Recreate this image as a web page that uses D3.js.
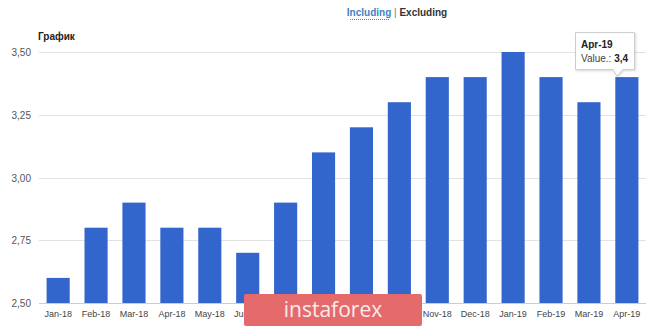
<!DOCTYPE html>
<html>
<head>
<meta charset="utf-8">
<script src="https://cdn.jsdelivr.net/npm/d3@7"></script>
<style>
  body { margin: 0; background: #fff; font-family: "Liberation Sans", Arial, sans-serif; }
</style>
</head>
<body>
<div id="chart"></div>
<script>
// Data
const months = ["Jan-18", "Feb-18", "Mar-18", "Apr-18", "May-18", "Jun-18", "Jul-18", "Aug-18",
  "Sep-18", "Oct-18", "Nov-18", "Dec-18", "Jan-19", "Feb-19", "Mar-19", "Apr-19"];
const values = [2.6, 2.8, 2.9, 2.8, 2.8, 2.7, 2.9, 3.1, 3.2, 3.3, 3.4, 3.4, 3.5, 3.4, 3.3, 3.4];
const yTicks = [2.5, 2.75, 3.0, 3.25, 3.5];

const width = 665, height = 326;
const margin = { top: 52, right: 19, bottom: 23, left: 39 };

const svg = d3.select("#chart").append("svg")
  .attr("width", width)
  .attr("height", height);

const x = d3.scaleBand()
  .domain(months)
  .range([margin.left, width - margin.right])
  .paddingInner(0.39)
  .paddingOuter(0.2);

const y = d3.scaleLinear()
  .domain([2.5, 3.5])
  .range([height - margin.bottom, margin.top]);

const fmt = d => d3.format(".2f")(d).replace(".", ",");

// Header switch
const head = svg.append("text")
  .attr("x", 397).attr("y", 16)
  .attr("text-anchor", "middle")
  .style("font-size", "10px").style("font-weight", "bold");
head.append("tspan").text("Including").attr("fill", "#3f7fc4");
head.append("tspan").text(" | ").attr("fill", "#777").style("font-weight", "normal");
head.append("tspan").text("Excluding").attr("fill", "#333");
svg.append("line")
  .attr("x1", 350).attr("x2", 389).attr("y1", 19.5).attr("y2", 19.5)
  .attr("stroke", "#3f7fc4").attr("stroke-dasharray", "1,1");

// Title
svg.append("text")
  .attr("x", 38).attr("y", 40)
  .style("font-size", "10px").style("font-weight", "bold")
  .attr("fill", "#222")
  .text("График");

// Grid
svg.append("g")
  .selectAll("line")
  .data(yTicks)
  .join("line")
  .attr("x1", margin.left).attr("x2", width - margin.right)
  .attr("y1", d => Math.round(y(d)) + 0.5).attr("y2", d => Math.round(y(d)) + 0.5)
  .attr("stroke", d => d === 2.5 ? "#ccc" : "#e2e2e2");

// Y labels
svg.append("g")
  .selectAll("text")
  .data(yTicks)
  .join("text")
  .attr("x", 31).attr("y", d => y(d) + 4)
  .attr("text-anchor", "end")
  .style("font-size", "10px").attr("fill", "#555")
  .text(fmt);

// Bars
svg.append("g")
  .selectAll("rect")
  .data(values)
  .join("rect")
  .attr("x", (d, i) => x(months[i]))
  .attr("width", x.bandwidth())
  .attr("y", d => y(d))
  .attr("height", d => y(2.5) - y(d))
  .attr("fill", "#3366cc");

// X labels
svg.append("g")
  .selectAll("text")
  .data(months)
  .join("text")
  .attr("x", d => x(d) + x.bandwidth() / 2)
  .attr("y", 317)
  .attr("text-anchor", "middle")
  .style("font-size", "9px").attr("fill", "#444")
  .text(d => d);

// Tooltip on last bar
const last = months.length - 1;
const tx = x(months[last]) + x.bandwidth() / 2;
const tipTop = y(values[last]) - 45;
const tip = svg.append("g");
tip.append("path")
  .attr("d", `M575.5,${tipTop + 0.5} H634.5 V${tipTop + 37.5} H${tx - 4} L${tx - 10},${y(values[last]) - 1} L${tx - 14},${tipTop + 37.5} H575.5 Z`)
  .attr("fill", "#fff").attr("stroke", "#ccc")
  .style("filter", "drop-shadow(1px 1px 1px rgba(0,0,0,0.15))");
tip.append("text")
  .attr("x", 581).attr("y", tipTop + 16)
  .style("font-size", "10px").style("font-weight", "bold").attr("fill", "#222")
  .text(months[last]);
const vt = tip.append("text")
  .attr("x", 581).attr("y", tipTop + 30)
  .style("font-size", "10px").attr("fill", "#444");
vt.append("tspan").text("Value.: ");
vt.append("tspan").style("font-weight", "bold").attr("fill", "#222")
  .text(String(values[last]).replace(".", ","));

// Watermark
const wm = svg.append("g");
wm.append("rect")
  .attr("x", 244).attr("y", 294).attr("width", 178).attr("height", 32).attr("rx", 2)
  .attr("fill", "#e46a6c");
wm.append("text")
  .attr("x", 333).attr("y", 317)
  .attr("text-anchor", "middle")
  .style("font-size", "21px").attr("fill", "#fbeaea")
  .style("font-family", "'Open Sans', sans-serif")
  .text("instaforex");
</script>
</body>
</html>
